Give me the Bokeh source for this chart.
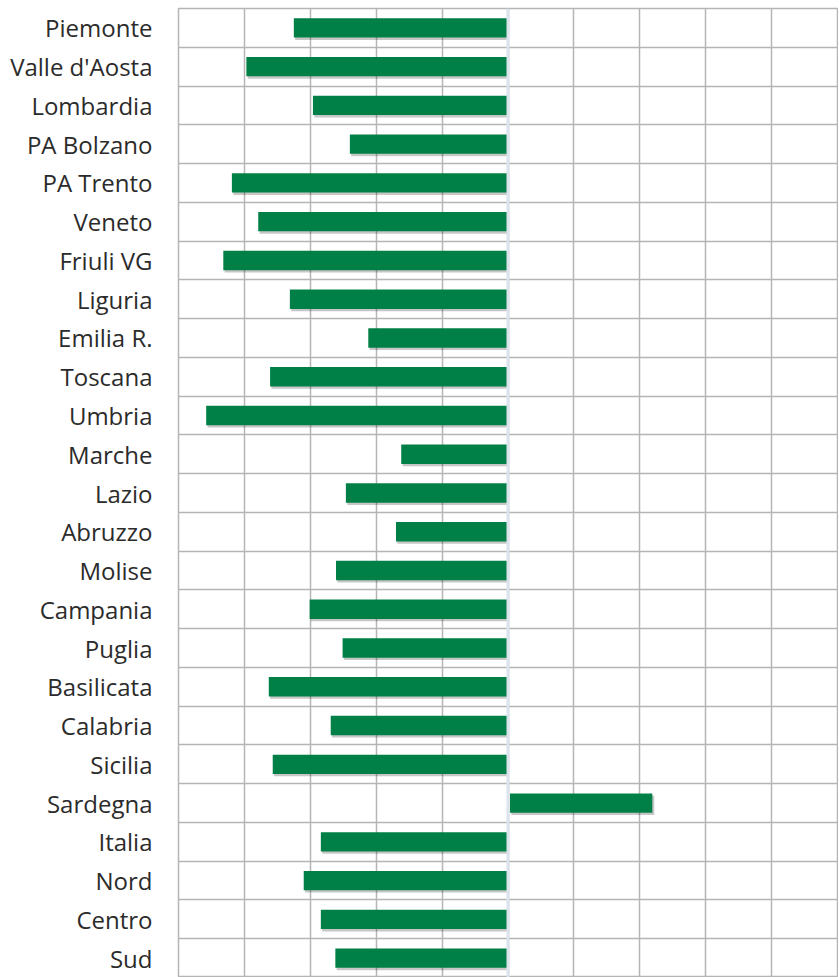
from bokeh.plotting import figure
from bokeh.models import ColumnDataSource, FixedTicker, Span
from bokeh.embed import file_html
from bokeh.resources import INLINE

regions = ["Piemonte", "Valle d'Aosta", "Lombardia", "PA Bolzano", "PA Trento",
           "Veneto", "Friuli VG", "Liguria", "Emilia R.", "Toscana", "Umbria",
           "Marche", "Lazio", "Abruzzo", "Molise", "Campania", "Puglia",
           "Basilicata", "Calabria", "Sicilia", "Sardegna", "Italia", "Nord",
           "Centro", "Sud"]
values = [-3.25, -3.97, -2.96, -2.40, -4.19, -3.79, -4.32, -3.31, -2.12, -3.61,
          -4.58, -1.62, -2.46, -1.70, -2.61, -3.01, -2.51, -3.63, -2.69, -3.57,
          2.19, -2.84, -3.10, -2.84, -2.62]
x_ticks = [-5, -4, -3, -2, -1, 0, 1, 2, 3, 4, 5]

n = len(regions)
ypos = [n - 0.5 - i for i in range(n)]
left = [min(0.0, v) + (0.03 if v > 0 else 0) for v in values]
right = [max(0.0, v) - (0.015 if v < 0 else 0) for v in values]

src = ColumnDataSource(dict(y=ypos, left=left, right=right,
                            sy=[y - 0.06 for y in ypos],
                            sl=[l + 0.02 for l in left],
                            sr=[r + 0.03 for r in right]))

p = figure(width=838, height=977, output_backend="svg", toolbar_location=None,
           x_range=(-5, 5), y_range=(0, n), min_border_left=178,
           min_border_right=1, min_border_top=8, min_border_bottom=0)
p.outline_line_color = "#b5b5b5"
p.outline_line_width = 1.5

p.xaxis.visible = False
p.xgrid.ticker = FixedTicker(ticks=x_ticks)
p.xgrid.grid_line_color = "#b5b5b5"
p.xgrid.grid_line_width = 1.5
p.ygrid.ticker = FixedTicker(ticks=list(range(n + 1)))
p.ygrid.grid_line_color = "#b5b5b5"
p.ygrid.grid_line_width = 1.5

yax = p.yaxis[0]
yax.ticker = FixedTicker(ticks=ypos)
yax.major_label_overrides = {y: r for y, r in zip(ypos, regions)}
yax.axis_line_color = None
yax.major_tick_line_color = None
yax.minor_tick_line_color = None
yax.major_tick_out = 0
yax.major_tick_in = 0
yax.major_label_standoff = 26
yax.major_label_text_font = "Open Sans"
yax.major_label_text_font_size = "24px"
yax.major_label_text_color = "#2b2b2b"

p.add_layout(Span(location=0, dimension="height", line_color="#dbe3ec", line_width=3))

p.hbar(y="sy", left="sl", right="sr", height=0.5, source=src,
       fill_color="#000000", fill_alpha=0.22, line_color=None)
p.hbar(y="y", left="left", right="right", height=0.5, source=src,
       fill_color="#008046", line_color=None)

open("out.html", "w").write(file_html(p, INLINE))
